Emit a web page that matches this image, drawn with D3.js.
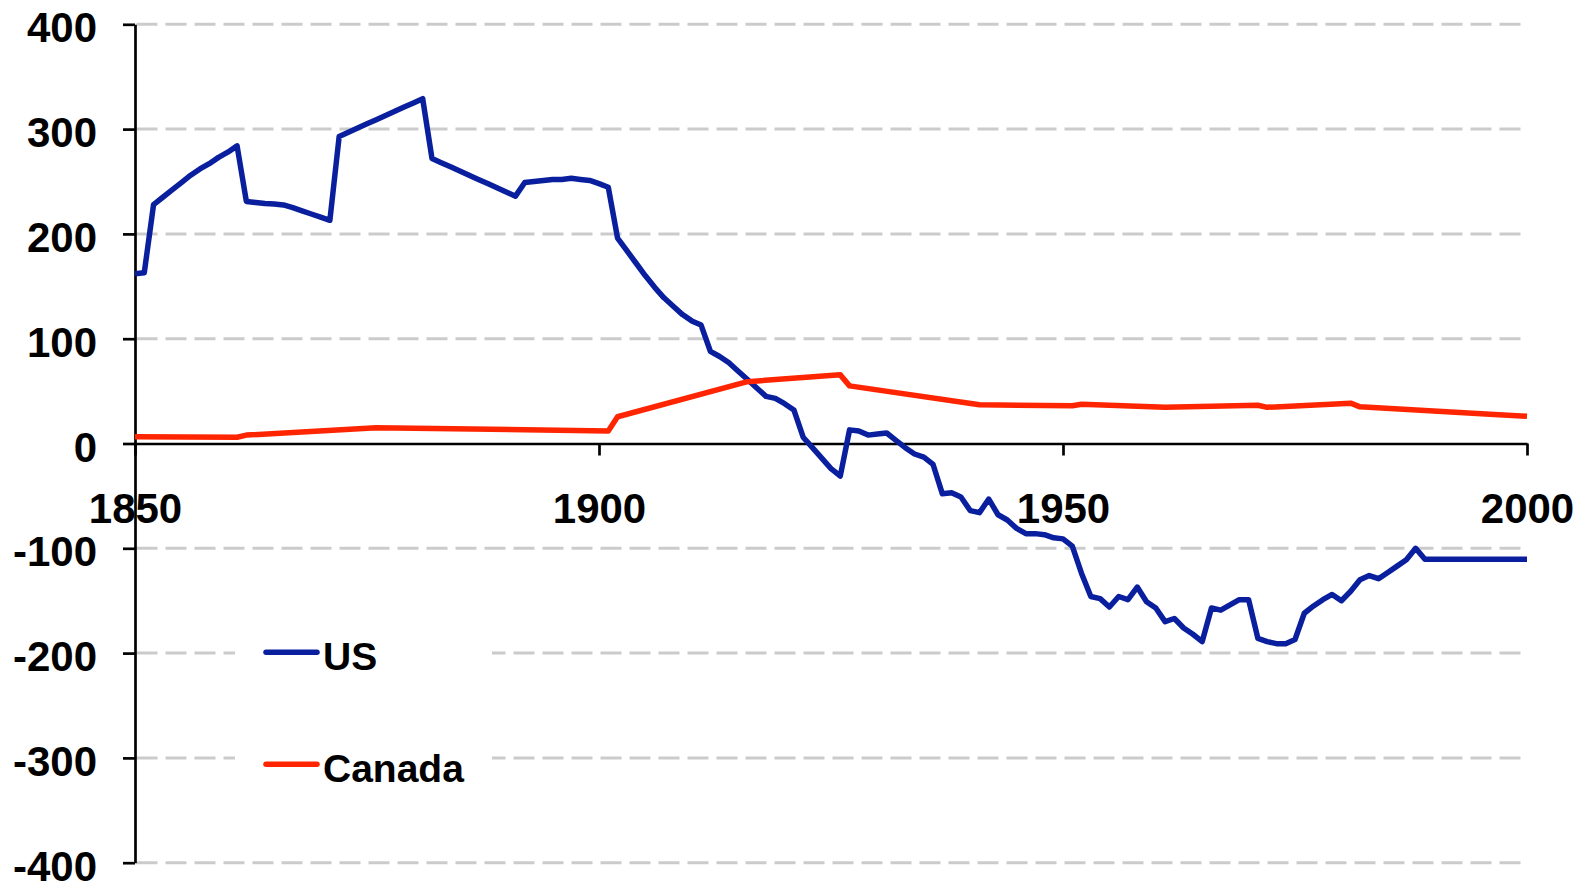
<!DOCTYPE html>
<html>
<head>
<meta charset="utf-8">
<script src="https://cdn.jsdelivr.net/npm/d3@7"></script>
<style>
    body { margin: 0; background: #fff; }
    svg { display: block; font-family: "Liberation Sans", Arial, sans-serif; font-weight: bold; }
</style>
</head>
<body>
<svg id="chart" width="1587" height="884"></svg>
<script>
// US series, one value per year (1850 - 1989, then flat to 2000)
const usYears = [
    1850, 1851, 1852, 1853, 1854, 1855, 1856, 1857, 1858, 1859,
    1860, 1861, 1862, 1863, 1864, 1865, 1866, 1867, 1868, 1869,
    1870, 1871, 1872, 1873, 1874, 1875, 1876, 1877, 1878, 1879,
    1880, 1881, 1882, 1883, 1884, 1885, 1886, 1887, 1888, 1889,
    1890, 1891, 1892, 1893, 1894, 1895, 1896, 1897, 1898, 1899,
    1900, 1901, 1902, 1903, 1904, 1905, 1906, 1907, 1908, 1909,
    1910, 1911, 1912, 1913, 1914, 1915, 1916, 1917, 1918, 1919,
    1920, 1921, 1922, 1923, 1924, 1925, 1926, 1927, 1928, 1929,
    1930, 1931, 1932, 1933, 1934, 1935, 1936, 1937, 1938, 1939,
    1940, 1941, 1942, 1943, 1944, 1945, 1946, 1947, 1948, 1949,
    1950, 1951, 1952, 1953, 1954, 1955, 1956, 1957, 1958, 1959,
    1960, 1961, 1962, 1963, 1964, 1965, 1966, 1967, 1968, 1969,
    1970, 1971, 1972, 1973, 1974, 1975, 1976, 1977, 1978, 1979,
    1980, 1981, 1982, 1983, 1984, 1985, 1986, 1987, 1988, 1989,
    2000
];
const usValues = [
    162, 163, 228, 235, 242, 249, 256, 262, 267, 273,
    278, 284, 231, 230, 229, 228.5, 227.6, 225, 222, 219,
    216, 213, 293, 297, 301, 305, 309, 313, 317, 321,
    325, 329, 272, 268, 264, 260, 256, 252, 248, 244,
    240, 236, 249, 250, 251, 252, 252, 253, 252, 251,
    248, 244.5, 196, 184, 172, 160, 149, 139, 131, 123,
    117, 113, 88, 83, 77, 69, 61, 53, 45, 43,
    38, 32, 6, -4, -14, -24, -31, 13, 12, 8,
    9, 10, 3, -4, -10, -13, -20, -48, -47, -51,
    -64, -66, -53, -68, -73, -81, -86, -86, -87, -90,
    -91, -98, -124, -146, -148, -156, -146, -149, -137, -151,
    -157, -170, -167, -176, -182, -189, -157, -159, -154, -149,
    -149, -186, -189, -191, -191, -187, -162, -155, -149, -144,
    -150, -141, -130, -126, -129, -123, -117, -111, -100, -110.5,
    -110.5
];

// Canada series (sparser points)
const caYears = [1850, 1861, 1862, 1876, 1901, 1902, 1916, 1926, 1927, 1941,
                 1951, 1952, 1961, 1971, 1972, 1981, 1982, 1996, 2000];
const caValues = [6.5, 6, 8, 15, 12, 25.5, 59, 65.5, 55, 37,
                  36, 37.5, 34.5, 36.5, 34.5, 38.5, 35, 28, 26];

const xTicks = [1850, 1900, 1950, 2000];
const yTicks = [-400, -300, -200, -100, 0, 100, 200, 300, 400];
const seriesNames = ["US", "Canada"];
const seriesColors = { US: "#0a1f9e", Canada: "#ff2500" };

let svg = d3.select("#chart");

let x = d3.scaleLinear().domain([1850, 2000]).range([135, 1527]);
let y = d3.scaleLinear().domain([-400, 400]).range([862.7, 24.3]);

// Gridlines (dashed grey), skipping zero which is the x axis
svg.append("g")
    .selectAll("line")
    .data(yTicks.filter(d => d !== 0))
    .enter().append("line")
    .attr("x1", x(1850) + 1.5)
    .attr("x2", x(2000))
    .attr("y1", d => y(d))
    .attr("y2", d => y(d))
    .attr("stroke", "#cbcbcb")
    .attr("stroke-width", 3)
    .attr("stroke-dasharray", "21,8");

// Y axis
let yAxis = svg.append("g")
    .attr("transform", "translate(" + x(1850) + ",0)")
    .call(d3.axisLeft(y).tickValues(yTicks).tickSizeInner(12).tickSizeOuter(0)
        .tickPadding(26).tickFormat(d => String(d)));
yAxis.select(".domain").attr("stroke", "#000").attr("stroke-width", 2.7);
yAxis.selectAll(".tick line").attr("stroke", "#000").attr("stroke-width", 2.7);
yAxis.selectAll(".tick text")
    .attr("dy", "0.42em")
    .style("font-size", "42px")
    .style("font-family", "'Liberation Sans', Arial, sans-serif")
    .style("font-weight", "bold")
    .attr("fill", "#000");

// X axis sits on zero
let xAxis = svg.append("g")
    .attr("transform", "translate(0," + y(0) + ")")
    .call(d3.axisBottom(x).tickValues(xTicks).tickSizeInner(12).tickSizeOuter(0)
        .tickPadding(38).tickFormat(d => String(d)));
xAxis.select(".domain").attr("stroke", "#000").attr("stroke-width", 2.7);
xAxis.selectAll(".tick line").attr("stroke", "#000").attr("stroke-width", 2.7);
xAxis.selectAll(".tick text")
    .style("font-size", "42px")
    .style("font-family", "'Liberation Sans', Arial, sans-serif")
    .style("font-weight", "bold")
    .attr("fill", "#000");

// Lines
let line = d3.line()
    .x(d => x(d[0]))
    .y(d => y(d[1]));

let usData = usYears.map((yr, i) => [yr, usValues[i]]);
let caData = caYears.map((yr, i) => [yr, caValues[i]]);

svg.append("path")
    .datum(usData)
    .attr("fill", "none")
    .attr("stroke", seriesColors.US)
    .attr("stroke-width", 5.5)
    .attr("stroke-linejoin", "round")
    .attr("d", line);

svg.append("path")
    .datum(caData)
    .attr("fill", "none")
    .attr("stroke", seriesColors.Canada)
    .attr("stroke-width", 5.5)
    .attr("stroke-linejoin", "round")
    .attr("d", line);

// Legend (white box hides the gridlines behind it)
let legend = svg.append("g");
legend.append("rect")
    .attr("x", 235).attr("y", 600)
    .attr("width", 257).attr("height", 210)
    .attr("fill", "#fff");

let items = legend.selectAll("g.item")
    .data(seriesNames)
    .enter().append("g")
    .attr("class", "item")
    .attr("transform", (d, i) => "translate(0," + (652.3 + i * 112) + ")");

items.append("line")
    .attr("x1", 266).attr("x2", 317)
    .attr("stroke", d => seriesColors[d])
    .attr("stroke-width", 5.5)
    .attr("stroke-linecap", "round");

items.append("text")
    .attr("x", 323)
    .attr("y", 18)
    .style("font-size", "39px")
    .attr("fill", "#000")
    .text(d => d);
</script>
</body>
</html>
